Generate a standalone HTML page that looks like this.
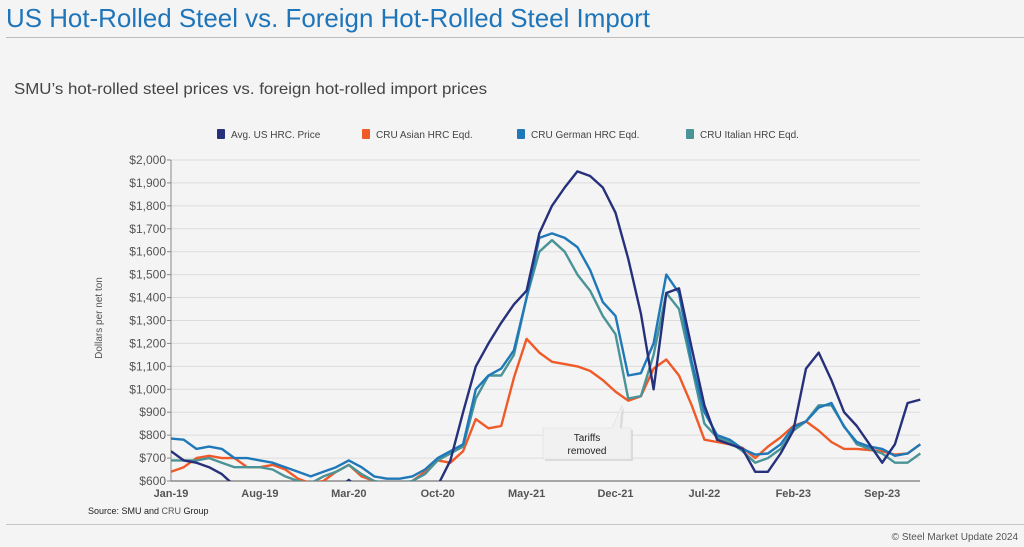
<!DOCTYPE html>
<html><head><meta charset="utf-8"><style>
html,body{margin:0;padding:0;background:#f4f4f4;}
svg{display:block;font-family:"Liberation Sans",Arial,sans-serif;}
</style></head><body>
<svg id="chart" width="1024" height="547" viewBox="0 0 1024 547">
<rect x="0" y="0" width="1024" height="547" fill="#f4f4f4"/>
<text x="6" y="27" font-size="26" fill="#1f75b9" textLength="644" lengthAdjust="spacingAndGlyphs">US Hot-Rolled Steel vs. Foreign Hot-Rolled Steel Import</text>
<line x1="6" y1="37.5" x2="1024" y2="37.5" stroke="#bdbdbd" stroke-width="1"/>
<text x="14" y="94" font-size="16" fill="#444" textLength="473" lengthAdjust="spacingAndGlyphs">SMU’s hot-rolled steel prices vs. foreign hot-rolled import prices</text>
<g id="legend"></g>
<g id="grid"></g>
<g id="yaxis"></g>
<g id="xaxis"></g>
<clipPath id="plotclip"><rect x="171" y="150" width="750" height="331"/></clipPath>
<g id="series" clip-path="url(#plotclip)"></g>
<text transform="translate(102,318) rotate(-90)" font-size="10" fill="#555" text-anchor="middle">Dollars per net ton</text>
<g>
<polygon points="543,428 612,428 622,405 620,428 631,428 631,459 543,459" fill="#d0d0d0" transform="translate(2,2)" opacity="0.7"/>
<polygon points="543,428 612,428 622,405 620,428 631,428 631,459 543,459" fill="#f1f1f1" stroke="#dddddd" stroke-width="0.6"/>
<text x="587" y="441" font-size="10" fill="#222" text-anchor="middle">Tariffs</text>
<text x="587" y="454" font-size="10" fill="#222" text-anchor="middle">removed</text>
</g>
<text x="88" y="514" font-size="9" fill="#222">Source: SMU and <tspan fill="#555">CRU</tspan> Group</text>
<line x1="6" y1="524.5" x2="1024" y2="524.5" stroke="#c8c8c8" stroke-width="1"/>
<text x="1018" y="540" font-size="10" fill="#555" text-anchor="end">© Steel Market Update 2024</text>
</svg>
<script>
const seriesNames = ["Avg. US HRC. Price","CRU Asian HRC Eqd.","CRU German HRC Eqd.","CRU Italian HRC Eqd."];
const seriesColors = ["#27307a","#f05a28","#1f78b8","#4a9396"];
const usValues = [730,690,680,660,630,580,560,560,560,560,560,560,560,560,605,560,560,560,560,560,560,580,690,900,1100,1200,1290,1370,1430,1680,1800,1880,1950,1930,1880,1770,1570,1330,1000,1420,1440,1180,930,780,760,740,640,640,720,820,1090,1160,1040,900,840,760,680,760,940,955];
const asianValues = [640,660,700,710,700,700,660,660,670,650,610,590,600,640,670,620,600,560,560,600,640,690,680,730,870,830,840,1050,1220,1160,1120,1110,1100,1080,1040,990,950,970,1090,1130,1060,930,780,770,760,745,700,750,790,840,860,820,770,740,740,735,730,715,720,760];
const germanValues = [785,780,740,750,740,700,700,690,680,660,640,620,640,660,690,660,620,610,610,620,650,700,730,760,1000,1060,1090,1170,1400,1660,1680,1660,1620,1520,1380,1320,1060,1070,1200,1500,1420,1120,900,800,780,740,715,720,760,836,860,920,940,836,770,750,740,710,720,760];
const italianValues = [690,690,690,700,680,660,660,660,650,620,600,590,620,640,670,630,600,590,590,600,630,690,720,750,960,1060,1060,1150,1400,1600,1650,1600,1500,1430,1320,1240,960,970,1150,1420,1350,1100,850,790,770,730,680,700,740,820,860,930,930,840,760,740,720,680,680,720];
const yTicks = [600,700,800,900,1000,1100,1200,1300,1400,1500,1600,1700,1800,1900,2000];
const yTickLabels = ["$600","$700","$800","$900","$1,000","$1,100","$1,200","$1,300","$1,400","$1,500","$1,600","$1,700","$1,800","$1,900","$2,000"];
const xTickMonths = [0,7,14,21,28,35,42,49,56];
const xTickLabels = ["Jan-19","Aug-19","Mar-20","Oct-20","May-21","Dec-21","Jul-22","Feb-23","Sep-23"];

const NS="http://www.w3.org/2000/svg";
const X0=171, XM=12.7, Y0=481, YS=0.2293;
function xScale(m){return X0+m*XM;}
function yScale(v){return Y0-(v-600)*YS;}
function mk(tag,attrs,parent){const e=document.createElementNS(NS,tag);for(const k in attrs)e.setAttribute(k,attrs[k]);parent.appendChild(e);return e;}

const grid=document.getElementById('grid'), ya=document.getElementById('yaxis'), xa=document.getElementById('xaxis');
yTicks.forEach((t,i)=>{
  const y=yScale(t);
  if(i>0){const g=mk('line',{x1:X0,x2:920,y1:y,y2:y,stroke:'#dcdcdc','stroke-width':1},grid);
    
    }
  const tk=mk('line',{x1:X0-4,x2:X0,y1:y,y2:y,stroke:'#888'},ya);
  
  
  const tx=mk('text',{x:X0-5,y:y+4,'font-size':12,fill:'#555','text-anchor':'end'},ya);
  tx.textContent=yTickLabels[i];
  
  
});
const yl=mk('line',{x1:X0,x2:X0,y1:yScale(2000),y2:Y0,stroke:'#888'},ya);


const xl=mk('line',{x1:X0,x2:920,y1:Y0,y2:Y0,stroke:'#777','stroke-width':1.2},xa);


xTickMonths.forEach((m,i)=>{
  const t=mk('text',{x:xScale(m),y:497,'font-size':11,'font-weight':'bold',fill:'#555','text-anchor':'middle'},xa);
  t.textContent=xTickLabels[i];
  
  
});

const allSeries=[usValues,asianValues,germanValues,italianValues];
const drawOrder=[1,3,2,0];
const sg=document.getElementById('series');
drawOrder.forEach(si=>{
  const d=allSeries[si].map((v,m)=>(m?'L':'M')+xScale(m).toFixed(1)+','+yScale(v).toFixed(1)).join(' ');
  const p=mk('path',{d:d,fill:'none',stroke:seriesColors[si],'stroke-width':2.4,'stroke-linejoin':'round'},sg);
  
  
});

const lg=document.getElementById('legend');
const legX=[217,362,517,686];
seriesNames.forEach((n,i)=>{
  const r=mk('rect',{x:legX[i],y:129,width:8,height:10,rx:1,fill:seriesColors[i]},lg);
  
  
  const t=mk('text',{x:legX[i]+14,y:138,'font-size':10,fill:'#444'},lg);
  t.textContent=n;
  
  
});
</script>
</body></html>
